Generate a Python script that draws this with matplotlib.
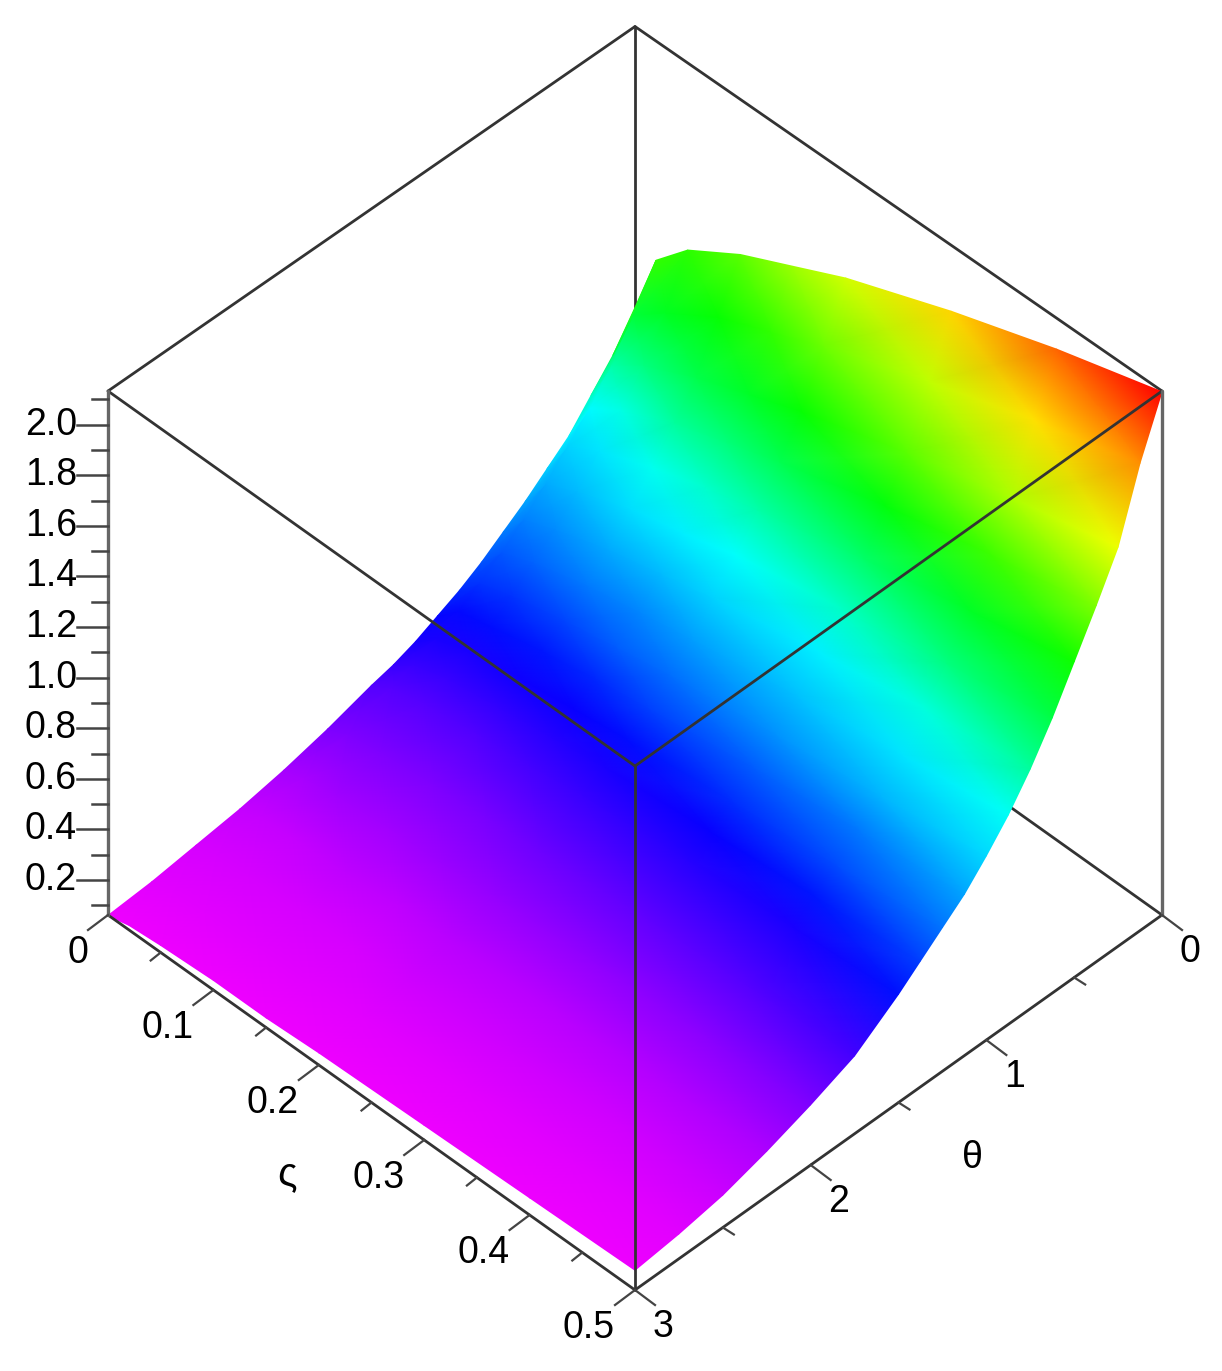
import numpy as np
import matplotlib
matplotlib.use("Agg")
import matplotlib.pyplot as plt

FONT = ["Liberation Sans", "DejaVu Sans"]

# values
sigma = np.array([0, 0.02, 0.05, 0.1, 0.15, 0.2, 0.3, 0.4, 0.5])
theta = np.array([3, 2.75, 2.5, 2.25, 2, 1.75, 1.5, 1.375, 1.25, 1.125,
                  1, 0.875, 0.75, 0.625, 0.5, 0.375, 0.25, 0.125, 0])

z_values = np.array([
    [.06, .07, .09, .11, .14, .18, .23, .25, .28, .32, .36, .41, .47, .53, .60, .67, .77, .87, 1.00],
    [.08, .09, .11, .14, .17, .22, .28, .31, .35, .40, .45, .51, .58, .66, .75, .84, .95, 1.09, 1.25],
    [.09, .10, .12, .15, .19, .24, .31, .35, .39, .43, .49, .56, .63, .72, .82, .92, 1.04, 1.19, 1.38],
    [.10, .11, .13, .16, .21, .26, .34, .38, .43, .48, .54, .62, .70, .80, .90, 1.02, 1.14, 1.32, 1.51],
    [.10, .12, .14, .18, .22, .28, .36, .41, .46, .52, .58, .66, .75, .85, .97, 1.09, 1.22, 1.41, 1.61],
    [.11, .13, .15, .19, .24, .30, .39, .44, .49, .55, .62, .70, .80, .91, 1.03, 1.16, 1.30, 1.50, 1.71],
    [.12, .14, .16, .20, .26, .33, .43, .48, .54, .61, .68, .77, .88, .99, 1.13, 1.28, 1.43, 1.65, 1.87],
    [.13, .15, .18, .22, .28, .35, .46, .52, .58, .66, .73, .83, .95, 1.07, 1.22, 1.38, 1.54, 1.79, 2.01],
    [.14, .16, .19, .24, .30, .37, .49, .56, .63, .70, .79, .89, 1.01, 1.15, 1.31, 1.47, 1.64, 1.91, 2.13],
])

# colour of the surface, hue in degrees
hue_values = np.array([
    [300, 298, 294, 290, 283, 274, 264, 257, 250, 244, 234, 224, 215, 205, 195, 186, 169, 141, 115],
    [300, 298, 294, 290, 283, 274, 263, 257, 249, 243, 232, 223, 213, 203, 193, 184, 162, 135, 110],
    [300, 298, 294, 290, 282, 274, 263, 256, 249, 241, 231, 220, 210, 199, 189, 177, 153, 130, 112],
    [300, 298, 294, 289, 282, 273, 262, 255, 247, 239, 227, 215, 203, 191, 179, 159, 140, 121, 100],
    [300, 298, 294, 289, 281, 272, 260, 253, 245, 234, 222, 211, 199, 187, 171, 151, 131, 110, 85],
    [300, 298, 293, 288, 279, 269, 257, 250, 241, 229, 217, 206, 194, 182, 163, 142, 122, 97, 72],
    [300, 298, 293, 287, 278, 267, 252, 245, 233, 221, 209, 198, 186, 169, 147, 125, 101, 76, 52],
    [300, 298, 293, 286, 276, 264, 249, 238, 226, 214, 201, 189, 175, 153, 131, 107, 81, 54, 25],
    [300, 297, 292, 285, 273, 259, 240, 228, 216, 204, 192, 181, 160, 139, 119, 92, 65, 34, 0],
])

sigma_major = [0, 0.1, 0.2, 0.3, 0.4, 0.5]
sigma_minor = [0.05, 0.15, 0.25, 0.35, 0.45]
sigma_labels = ["0", "0.1", "0.2", "0.3", "0.4", "0.5"]
theta_major = [0, 1, 2, 3]
theta_minor = [0.5, 1.5, 2.5]
theta_labels = ["0", "1", "2", "3"]
z_major = [0.2, 0.4, 0.6, 0.8, 1.0, 1.2, 1.4, 1.6, 1.8, 2.0]
z_minor = [0.1, 0.3, 0.5, 0.7, 0.9, 1.1, 1.3, 1.5, 1.7, 1.9, 2.1]

S_MIN, S_MAX = 0, 0.5
T_MIN, T_MAX = 0, 3
Z_MIN, Z_MAX = 0.062, 2.133


def project(s, t, z):
    # box seen from above, corner s=0.5, t=3 in front
    s, t, z = np.asarray(s, float), np.asarray(t, float), np.asarray(z, float)
    depth = ((S_MAX - s) / S_MAX + (T_MAX - t) / T_MAX) / 2
    shrink = 1 - 0.02 * np.maximum(0, 2 * depth - 1)
    x = 108 + 1054 * s + 175.67 * (T_MAX - t)
    y = 915 + 750 * s - 125 * (T_MAX - t) - 253 * (z - Z_MIN) * shrink
    return x, y


def edge(ax, a, b, color="#333333", lw=2.0, zorder=3):
    xa, ya = project(*a)
    xb, yb = project(*b)
    ax.plot([xa, xb], [ya, yb], color=color, lw=lw, zorder=zorder,
            solid_capstyle="round")


fig = plt.figure(figsize=(12.22, 13.71), dpi=100)
ax = fig.add_axes([0, 0, 1, 1])
ax.set_xlim(0, 1222)
ax.set_ylim(1371, 0)
ax.axis("off")

# box edges behind the surface
edge(ax, (S_MIN, T_MIN, Z_MAX), (S_MIN, T_MAX, Z_MAX), zorder=1)
edge(ax, (S_MIN, T_MIN, Z_MAX), (S_MAX, T_MIN, Z_MAX), zorder=1)
edge(ax, (S_MIN, T_MIN, Z_MAX), (S_MIN, T_MIN, Z_MIN), zorder=1)
edge(ax, (S_MIN, T_MIN, Z_MIN), (S_MAX, T_MIN, Z_MIN), zorder=1)

# surface
S, T = np.meshgrid(sigma, theta, indexing="ij")
X, Y = project(S, T, z_values)
ax.pcolormesh(X, Y, hue_values, shading="gouraud", cmap="hsv",
              vmin=0, vmax=360, zorder=2, rasterized=True)

# box edges in front of it
edge(ax, (S_MIN, T_MAX, Z_MAX), (S_MAX, T_MAX, Z_MAX))
edge(ax, (S_MAX, T_MIN, Z_MAX), (S_MAX, T_MAX, Z_MAX))
edge(ax, (S_MAX, T_MAX, Z_MAX), (S_MAX, T_MAX, Z_MIN))
edge(ax, (S_MIN, T_MAX, Z_MIN), (S_MAX, T_MAX, Z_MIN))
edge(ax, (S_MAX, T_MIN, Z_MIN), (S_MAX, T_MAX, Z_MIN))
edge(ax, (S_MIN, T_MAX, Z_MAX), (S_MIN, T_MAX, Z_MIN), color="#666666", lw=2.4)
edge(ax, (S_MAX, T_MIN, Z_MAX), (S_MAX, T_MIN, Z_MIN), color="#666666", lw=2.4)

tick_color = "#444444"
label_size = 27

# z axis
for v in z_major:
    x, y = project(S_MIN, T_MAX, v)
    ax.plot([x - 31, x], [y, y], color=tick_color, lw=1.8, zorder=3)
    ax.text(x - 31, y, f"{v:.1f}", ha="right", va="center",
            fontsize=label_size, family=FONT, color="black", zorder=4)
for v in z_minor:
    x, y = project(S_MIN, T_MAX, v)
    ax.plot([x - 16, x], [y, y], color=tick_color, lw=1.8, zorder=3)

# sigma axis
for v, lab in zip(sigma_major, sigma_labels):
    x, y = project(v, T_MAX, Z_MIN)
    ax.plot([x - 20, x], [y + 15, y], color=tick_color, lw=1.6, zorder=3)
    dx = 30 if len(lab) == 1 else 46
    ax.text(x - dx, y + 38, lab, ha="center", va="center",
            fontsize=label_size, family=FONT, color="black", zorder=4)
for v in sigma_minor:
    x, y = project(v, T_MAX, Z_MIN)
    ax.plot([x - 10, x], [y + 8, y], color=tick_color, lw=1.6, zorder=3)

# theta axis
for v, lab in zip(theta_major, theta_labels):
    x, y = project(S_MAX, v, Z_MIN)
    ax.plot([x, x + 20], [y, y + 15], color=tick_color, lw=1.6, zorder=3)
    ax.text(x + 28, y + 37, lab, ha="center", va="center",
            fontsize=label_size, family=FONT, color="black", zorder=4)
for v in theta_minor:
    x, y = project(S_MAX, v, Z_MIN)
    ax.plot([x, x + 11], [y, y + 7], color=tick_color, lw=1.6, zorder=3)

ax.text(287, 1174, "ς", ha="center", va="center", fontsize=29, family=FONT)
ax.text(972, 1158, "θ", ha="center", va="center", fontsize=27, family=FONT)

fig.savefig("out.png", dpi=100, facecolor="white")
